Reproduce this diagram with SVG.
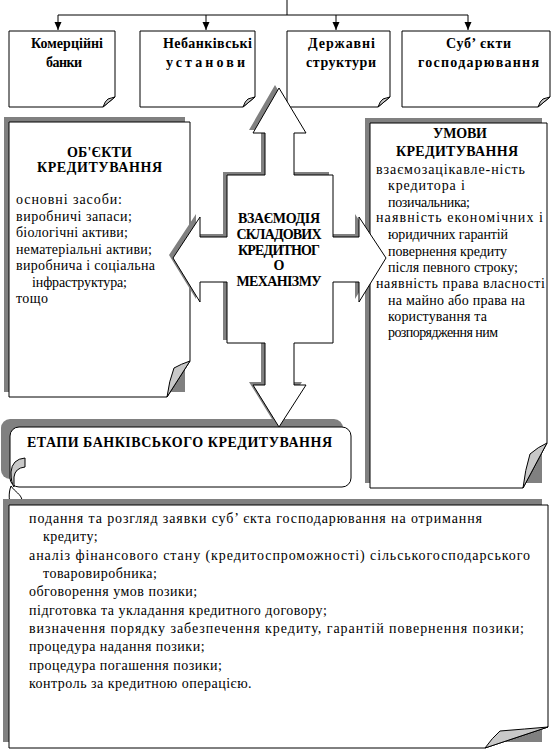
<svg xmlns="http://www.w3.org/2000/svg" width="553" height="756" viewBox="0 0 553 756">
<defs>
<style>
.box{fill:#fff;stroke:#000;stroke-width:1}
.sh{fill:#808080}
.fold{fill:#c8c8c8;stroke:#000;stroke-width:1}
.ln{stroke:#000;stroke-width:1;fill:none}
.t{font-family:"Liberation Serif","DejaVu Serif",serif;font-size:14px;fill:#000}
.b{font-weight:bold}
.ls{letter-spacing:0.5px}
</style>
<marker id="ah" viewBox="0 0 8 8" refX="8" refY="4" markerWidth="8" markerHeight="8" markerUnits="userSpaceOnUse" orient="auto">
<path d="M0,0.5 L8,4 L0,7.5 Z" fill="#000"/>
</marker>
</defs>
<rect width="553" height="756" fill="#fff"/>

<g id="connectors">
<path class="ln" d="M287,0 V15 M58,15 H468"/>
<line class="ln" x1="58" y1="15" x2="58" y2="30" marker-end="url(#ah)"/>
<line class="ln" x1="206" y1="15" x2="206" y2="30" marker-end="url(#ah)"/>
<line class="ln" x1="336" y1="15" x2="336" y2="30" marker-end="url(#ah)"/>
<line class="ln" x1="468" y1="15" x2="468" y2="30" marker-end="url(#ah)"/>
</g>

<g id="node-banks">
<path class="box" d="M9,31 H115 V97 L103,107 H9 Z"/>
<path class="fold" d="M115,97 L103,107 Q105,101 108,99 Q111,98 115,97 Z"/>
<text class="t b" x="31" y="48" textLength="72" lengthAdjust="spacing">Комерційні</text>
<text class="t b" x="46" y="67" textLength="36" lengthAdjust="spacing">банки</text>
</g>
<g id="node-nonbank">
<path class="box" d="M140,31 H255 V97 L243,107 H140 Z"/>
<path class="fold" d="M255,97 L243,107 Q245,101 248,99 Q251,98 255,97 Z"/>
<text class="t b" x="163" y="48" textLength="89" lengthAdjust="spacing">Небанківські</text>
<text class="t b" x="166" y="67" textLength="79" lengthAdjust="spacing">установи</text>
</g>
<g id="node-state">
<path class="box" d="M287,31 H390 V97 L378,107 H287 Z"/>
<path class="fold" d="M390,97 L378,107 Q380,101 383,99 Q386,98 390,97 Z"/>
<text class="t b" x="308" y="48" textLength="67" lengthAdjust="spacing">Державні</text>
<text class="t b" x="306" y="67" textLength="70" lengthAdjust="spacing">структури</text>
</g>
<g id="node-entities">
<path class="box" d="M402,31 H550 V97 L538,107 H402 Z"/>
<path class="fold" d="M550,97 L538,107 Q540,101 543,99 Q546,98 550,97 Z"/>
<text class="t b" x="446" y="48" textLength="65" lengthAdjust="spacing">Суб’ єкти</text>
<text class="t b" x="418" y="67" textLength="121" lengthAdjust="spacing">господарювання</text>
</g>

<g id="node-objects">
<rect class="sh" x="4" y="117" width="181" height="275"/>
<path class="box" d="M9,122 H190 V361 L167,397 H9 Z"/>
<path class="fold" d="M190,361 L167,397 Q169,381 174,368 Q181,364 190,361 Z"/>
<text class="t b" x="67" y="157" font-size="15" textLength="65" lengthAdjust="spacing">ОБ'ЄКТИ</text>
<text class="t b" x="37" y="172" font-size="15" textLength="125" lengthAdjust="spacing">КРЕДИТУВАННЯ</text>
<text class="t" x="16" y="204" textLength="106" lengthAdjust="spacing">основні засоби:</text>
<text class="t" x="16" y="220.5" textLength="116" lengthAdjust="spacing">виробничі запаси;</text>
<text class="t" x="16" y="237" textLength="112" lengthAdjust="spacing">біологічні активи;</text>
<text class="t" x="16" y="253.5" textLength="136" lengthAdjust="spacing">нематеріальні активи;</text>
<text class="t" x="16" y="270" textLength="139" lengthAdjust="spacing">виробнича і соціальна</text>
<text class="t" x="32" y="286.5" textLength="95" lengthAdjust="spacing">інфраструктура;</text>
<text class="t" x="16" y="303" textLength="32" lengthAdjust="spacing">тощо</text>
</g>

<g id="node-conditions">
<rect class="sh" x="365" y="118" width="177" height="365"/>
<path class="box" d="M370,123 H547 V443 L523,488 H370 Z"/>
<path class="fold" d="M547,443 L523,488 Q525,470 530,454 Q538,447 547,443 Z"/>
<text class="t b" x="433" y="138" font-size="15" textLength="54" lengthAdjust="spacing">УМОВИ</text>
<text class="t b" x="396" y="156" font-size="15" textLength="122" lengthAdjust="spacing">КРЕДИТУВАННЯ</text>
<text class="t" x="376" y="174" textLength="149" lengthAdjust="spacing">взаємозацікавле-ність</text>
<text class="t" x="388" y="190" textLength="77" lengthAdjust="spacing">кредитора і</text>
<text class="t" x="388" y="207" textLength="82" lengthAdjust="spacing">позичальника;</text>
<text class="t" x="376" y="222" textLength="167" lengthAdjust="spacing">наявність економічних і</text>
<text class="t" x="388" y="239" textLength="120" lengthAdjust="spacing">юридичних гарантій</text>
<text class="t" x="388" y="256" textLength="119" lengthAdjust="spacing">повернення кредиту</text>
<text class="t" x="388" y="272" textLength="130" lengthAdjust="spacing">після певного строку;</text>
<text class="t" x="376" y="288" textLength="169" lengthAdjust="spacing">наявність права власності</text>
<text class="t" x="388" y="305" textLength="137" lengthAdjust="spacing">на майно або права на</text>
<text class="t" x="388" y="321" textLength="99" lengthAdjust="spacing">користування та</text>
<text class="t" x="388" y="337" textLength="110" lengthAdjust="spacing">розпорядження ним</text>
</g>

<g id="node-stages">
<rect class="sh" x="1" y="419" width="342" height="60" rx="9"/>
<rect class="box" x="10" y="427" width="341" height="60" rx="9"/>
<path class="fold" d="M25,458 Q12,459 11,472 Q11,483 14,487 L14,477 Q15,468 25,467 Z"/>
<path class="box" d="M11,486 C15,492 21,494 22,500 L19,509 L16,503 L12,509 C9,502 8,494 11,486 Z"/>
<text class="t b" x="27" y="447" font-size="14.5" textLength="305" lengthAdjust="spacing">ЕТАПИ БАНКІВСЬКОГО КРЕДИТУВАННЯ</text>
</g>

<g id="node-mechanism">
<path class="sh" transform="translate(-4,-3)" d="M279,88 L306,133 L294,133 L294,175 L333,175 L333,237 L359,237 L359,217 L386,258 L359,302 L359,282 L333,282 L333,343 L294,343 L294,385 L306,385 L279,427 L253,385 L265,385 L265,343 L227,343 L227,282 L200,282 L200,302 L173,258 L200,217 L200,237 L227,237 L227,175 L265,175 L265,133 L253,133 Z"/>
<path class="box" d="M279,88 L306,133 L294,133 L294,175 L333,175 L333,237 L359,237 L359,217 L386,258 L359,302 L359,282 L333,282 L333,343 L294,343 L294,385 L306,385 L279,427 L253,385 L265,385 L265,343 L227,343 L227,282 L200,282 L200,302 L173,258 L200,217 L200,237 L227,237 L227,175 L265,175 L265,133 L253,133 Z"/>
<text class="t b" x="279" y="223" font-size="13.5" text-anchor="middle" textLength="82" lengthAdjust="spacing">ВЗАЄМОДІЯ</text>
<text class="t b" x="279" y="239" font-size="13.5" text-anchor="middle" textLength="85" lengthAdjust="spacing">СКЛАДОВИХ</text>
<text class="t b" x="279" y="255" font-size="13.5" text-anchor="middle" textLength="82" lengthAdjust="spacing">КРЕДИТНОГ</text>
<text class="t b" x="279" y="270" font-size="13.5" text-anchor="middle">О</text>
<text class="t b" x="279" y="286" font-size="13.5" text-anchor="middle" textLength="85" lengthAdjust="spacing">МЕХАНІЗМУ</text>
</g>

<g id="node-steps">
<rect class="sh" x="3" y="499" width="539" height="243"/>
<path class="box" d="M9,505 H548 V727 L485,748 H9 Z"/>
<path class="fold" d="M548,727 L485,748 Q492,738 500,731 Q525,729 548,727 Z"/>
<text class="t" x="29" y="523" textLength="453" lengthAdjust="spacing">подання та розгляд заявки суб’ єкта господарювання на отримання</text>
<text class="t ls" x="43" y="541">кредиту;</text>
<text class="t" x="29" y="560" textLength="501" lengthAdjust="spacing">аналіз фінансового стану (кредитоспроможності) сільськогосподарського</text>
<text class="t ls" x="43" y="578">товаровиробника;</text>
<text class="t ls" x="29" y="596">обговорення умов позики;</text>
<text class="t ls" x="29" y="615">підготовка та укладання кредитного договору;</text>
<text class="t" x="29" y="633" textLength="495" lengthAdjust="spacing">визначення порядку забезпечення кредиту, гарантій повернення позики;</text>
<text class="t ls" x="29" y="651">процедура надання позики;</text>
<text class="t ls" x="29" y="670">процедура погашення позики;</text>
<text class="t ls" x="29" y="688">контроль за кредитною операцією.</text>
</g>
</svg>
